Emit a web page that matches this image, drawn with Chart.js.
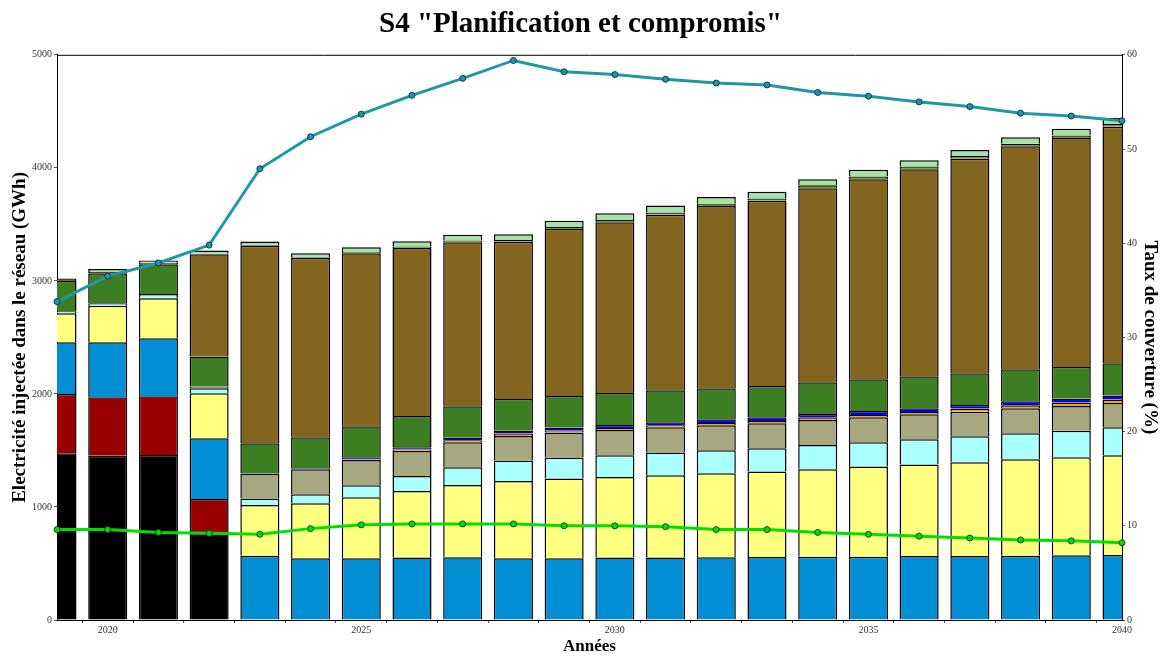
<!DOCTYPE html>
<html>
<head>
<meta charset="utf-8">
<script src="https://cdn.jsdelivr.net/npm/chart.js@4.4.1/dist/chart.umd.min.js"></script>
<style>
  html, body { margin: 0; padding: 0; background: white; }
  #wrap { width: 1161px; height: 657px; }
</style>
</head>
<body>
<div id="wrap"><canvas id="myChart" width="1161" height="657"></canvas></div>
<script>
// years on the x axis, only some of them get a label
const years = ['2019','2020','2021','2022','2023','2024','2025','2026','2027','2028','2029',
  '2030','2031','2032','2033','2034','2035','2036','2037','2038','2039','2040'];
const shownYears = ['2020', '2025', '2030', '2035', '2040'];

// injected electricity per source (GWh), bottom of the stack first
const charbon = [1475,1454,1460,767,null,null,null,null,null,null,null,null,null,null,null,null,null,null,null,null,null,null];
const fioul = [525,517,520,304,null,null,null,null,null,null,null,null,null,null,null,null,null,null,null,null,null,null];
const hydraulique = [457,486,513,537,569,546,546,552,555,546,546,552,552,555,558,560,560,566,566,569,572,575];
const photovoltaique = [257,322,354,398,449,487,540,590,640,684,705,714,728,743,755,774,797,809,829,853,868,882];
const eolien = [18,24,38,44,56,79,106,132,156,180,186,191,201,204,206,215,216,224,231,230,235,248];
const bioliquide = [null,null,null,15,221,222,224,222,222,218,221,224,224,221,222,221,221,221,217,221,219,215];
const stockage = [null,null,null,null,null,null,6,12,17,22,17,17,17,20,20,20,20,20,27,27,30,30];
const energiesMarines = [null,null,null,null,null,8,18,20,23,25,27,28,28,33,33,33,36,33,33,35,35,35];
const bagasse = [268,265,263,265,269,275,275,277,278,281,280,283,283,274,277,280,280,283,280,283,280,287];
const biomasse = [21,10,12,906,1746,1588,1530,1485,1451,1390,1476,1510,1551,1613,1637,1717,1770,1832,1897,1974,2024,2091];
const geothermie = [null,null,null,5,8,6,10,14,15,15,18,20,20,20,20,25,24,24,24,21,23,25];
const autres = [null,26,20,27,30,34,42,46,50,52,55,60,63,60,60,55,58,56,53,58,59,55];

// coverage rates (%), right axis
const tauxRenouvelable = [33.8,36.5,37.9,39.8,47.9,51.3,53.7,55.7,57.5,59.4,58.2,57.9,57.4,57.0,56.8,56.0,55.6,55.0,54.5,53.8,53.5,53.0];
const tauxPV = [9.6,9.6,9.3,9.2,9.1,9.7,10.1,10.2,10.2,10.2,10.0,10.0,9.9,9.6,9.6,9.3,9.1,8.9,8.7,8.5,8.4,8.2];

const serif = "'Liberation Serif', 'Times New Roman', serif";

function bar(label, data, color) {
  return {
    type: 'bar',
    label: label,
    data: data,
    backgroundColor: color,
    borderColor: '#000',
    borderWidth: 1.5,
    yAxisID: 'y',
    stack: 'mix',
    order: 1,
    clip: 0,
    categoryPercentage: 1,
    barPercentage: 0.77
  };
}

function line(label, data, color, pointBorder) {
  return {
    type: 'line',
    label: label,
    data: data,
    borderColor: color,
    backgroundColor: color,
    borderWidth: 3,
    pointRadius: 3,
    pointBorderWidth: 1,
    pointBorderColor: pointBorder,
    pointBackgroundColor: color,
    tension: 0,
    yAxisID: 'y1',
    order: 0
  };
}

// black frame around the plot area (top side is not drawn by any axis)
const frame = {
  id: 'frame',
  afterDraw(chart) {
    const a = chart.chartArea;
    const ctx = chart.ctx;
    ctx.save();
    ctx.strokeStyle = '#000';
    ctx.lineWidth = 1;
    ctx.beginPath();
    ctx.moveTo(a.left, a.top + 0.5);
    ctx.lineTo(a.right, a.top + 0.5);
    ctx.stroke();
    ctx.restore();
  }
};

const ctx = document.getElementById('myChart').getContext('2d');
const chart = new Chart(ctx, {
  data: {
    labels: years,
    datasets: [
      line('Taux de couverture ENR', tauxRenouvelable, '#2096A6', '#0d3c44'),
      line('Taux de couverture PV', tauxPV, '#00E000', '#0c4a0c'),
      bar('Charbon', charbon, '#000000'),
      bar('Fioul', fioul, '#990000'),
      bar('Hydraulique', hydraulique, '#008FD5'),
      bar('Photovoltaïque', photovoltaique, '#FFFF80'),
      bar('Eolien', eolien, '#AAFFFF'),
      bar('Bioliquide', bioliquide, '#A8A880'),
      bar('Stockage', stockage, '#FFA500'),
      bar('Energies marines', energiesMarines, '#0000FF'),
      bar('Bagasse', bagasse, '#3E7E22'),
      bar('Biomasse', biomasse, '#836520'),
      bar('Géothermie', geothermie, '#7A9E1E'),
      bar('Autres', autres, '#A6E3A6')
    ]
  },
  options: {
    responsive: false,
    animation: false,
    layout: { padding: 0 },
    plugins: {
      legend: { display: false },
      tooltip: { enabled: false },
      title: {
        display: true,
        text: 'S4 "Planification et compromis"',
        color: '#000',
        font: { family: serif, size: 29, weight: 'bold' },
        padding: { top: 7, bottom: 13 }
      }
    },
    scales: {
      x: {
        type: 'category',
        offset: false,
        stacked: true,
        grid: { display: true, drawOnChartArea: false, tickLength: 3, color: '#555' },
        border: { display: true, color: '#000', width: 1 },
        ticks: {
          autoSkip: false,
          maxRotation: 0,
          padding: 1,
          color: '#333',
          font: { family: serif, size: 10 },
          callback: function (val) {
            const l = this.getLabelForValue(val);
            return shownYears.includes(l) ? l : '';
          }
        },
        title: {
          display: true,
          text: 'Années',
          color: '#000',
          font: { family: serif, size: 17, weight: 'bold' },
          padding: { top: 0, bottom: 0 }
        },
        afterFit(scale) { scale.height = 37; }
      },
      y: {
        position: 'left',
        stacked: true,
        min: 0,
        max: 5000,
        grid: { display: true, drawOnChartArea: false, tickLength: 3, color: '#555' },
        border: { display: true, color: '#000', width: 1 },
        ticks: {
          stepSize: 1000,
          padding: 2,
          color: '#333',
          font: { family: serif, size: 10 },
          callback: v => String(v)
        },
        title: {
          display: true,
          text: 'Electricité injectée dans le réseau (GWh)',
          color: '#000',
          font: { family: serif, size: 19, weight: 'bold' },
          padding: { top: 9, bottom: 0 }
        },
        afterFit(scale) { scale.width = 57; }
      },
      y1: {
        position: 'right',
        min: 0,
        max: 60,
        grid: { display: true, drawOnChartArea: false, tickLength: 3, color: '#555' },
        border: { display: true, color: '#000', width: 1 },
        ticks: {
          stepSize: 10,
          padding: 2,
          color: '#333',
          font: { family: serif, size: 10 }
        },
        title: {
          display: true,
          text: 'Taux de couverture (%)',
          color: '#000',
          font: { family: serif, size: 19, weight: 'bold' },
          padding: { top: 0, bottom: 0 }
        },
        afterFit(scale) { scale.width = 39; }
      }
    }
  },
  plugins: [frame]
});
</script>
</body>
</html>
